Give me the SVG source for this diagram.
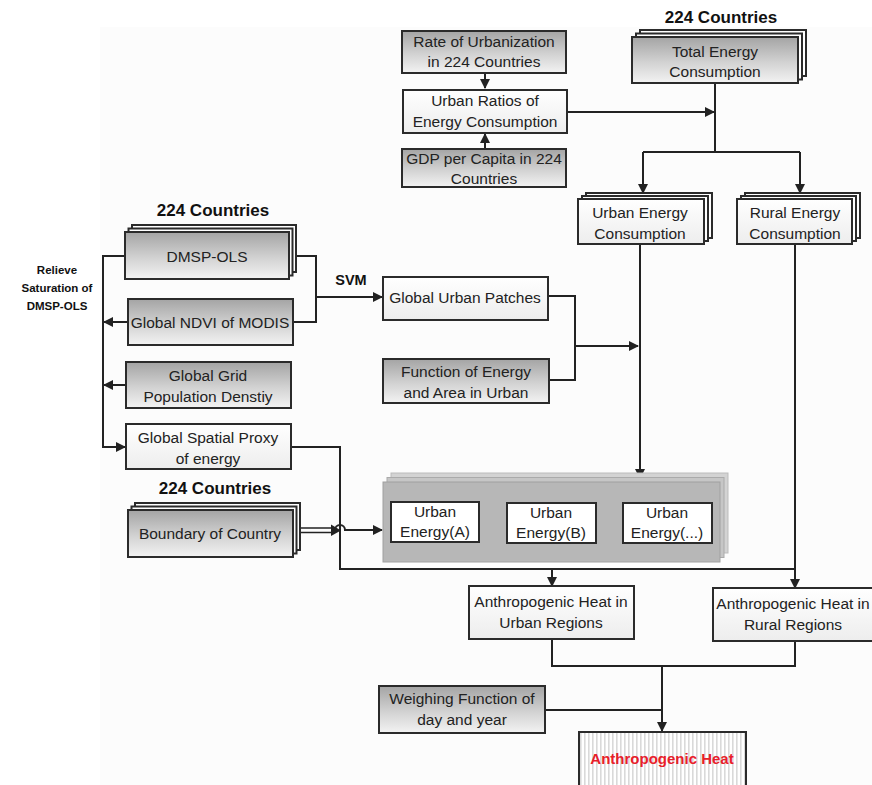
<svg xmlns="http://www.w3.org/2000/svg" width="872" height="785" viewBox="0 0 872 785">
<defs>
<linearGradient id="gGray" x1="0" y1="0" x2="0" y2="1">
<stop offset="0" stop-color="#a4a4a4"/>
<stop offset="0.55" stop-color="#d2d2d2"/>
<stop offset="1" stop-color="#f3f3f3"/>
</linearGradient>
<linearGradient id="gWhite" x1="0" y1="0" x2="0" y2="1">
<stop offset="0" stop-color="#ffffff"/>
<stop offset="1" stop-color="#ededed"/>
</linearGradient>
<pattern id="stripes" width="4" height="10" patternUnits="userSpaceOnUse">
<rect width="4" height="10" fill="#ffffff"/>
<rect width="1.6" height="10" fill="#d9d9d9"/>
</pattern>
<marker id="arr" viewBox="0 0 10 10" refX="9" refY="5" markerWidth="10" markerHeight="10" markerUnits="userSpaceOnUse" orient="auto">
<path d="M0,0 L10,5 L0,10 Z" fill="#222"/>
</marker>
</defs>
<style>
.box{stroke:#2b2b2b;stroke-width:2}
.g{fill:url(#gGray)}
.w{fill:url(#gWhite)}
.sh{fill:#ffffff;stroke:#2b2b2b;stroke-width:2}
.t{font-family:"Liberation Sans",Arial,sans-serif;font-size:15.5px;fill:#222;text-anchor:middle}
.b{font-family:"Liberation Sans",Arial,sans-serif;font-weight:bold;fill:#111;text-anchor:middle}
.c{fill:none;stroke:#222;stroke-width:2}
</style>
<rect x="100" y="27" width="772" height="758" fill="#fcfcfc"/>

<text class="b" x="721" y="23" font-size="17">224 Countries</text>
<text class="b" x="213" y="216" font-size="17">224 Countries</text>
<text class="b" x="215" y="494" font-size="17">224 Countries</text>
<g id="relieve-label">
<text class="b" x="57" y="274" font-size="11.5">Relieve</text>
<text class="b" x="57" y="292" font-size="11.5">Saturation of</text>
<text class="b" x="57" y="310" font-size="11.5">DMSP-OLS</text>
</g>
<text class="b" x="351" y="285" font-size="14.5">SVM</text>

<g id="connectors">
<path class="c" d="M485,73 V88" marker-end="url(#arr)"/>
<path class="c" d="M485,149 V134" stroke="#555" marker-end="url(#arr)"/>
<path class="c" d="M567,112 H714" marker-end="url(#arr)"/>
<path class="c" d="M715,83 V152 M643,152 H800"/>
<path class="c" d="M643,152 V193" marker-end="url(#arr)"/>
<path class="c" d="M800,152 V193" marker-end="url(#arr)"/>
<path class="c" d="M640,244 V478" marker-end="url(#arr)"/>
<path class="c" d="M795,244 V588" marker-end="url(#arr)"/>
<path class="c" d="M125,256 H103 V447 H125" marker-end="url(#arr)"/>
<path class="c" d="M128,322 H104" marker-end="url(#arr)"/>
<path class="c" d="M126,385 H104" marker-end="url(#arr)"/>
<path class="c" d="M289,256 H316 V322 H293"/>
<path class="c" d="M316,297 H382" marker-end="url(#arr)"/>
<path class="c" d="M548,296 H575 V380 H549"/>
<path class="c" d="M575,346 H638" marker-end="url(#arr)"/>
<path class="c" d="M291,447 H340 V569 H795"/>
<path d="M297,528 H333 M297,532.5 H333" fill="none" stroke="#222" stroke-width="1.6"/>
<path d="M331,524.5 L341,530.5 L331,536 Z" fill="#222"/>
<path class="c" d="M335,530 A5,5 0 0 1 345,530 H382" marker-end="url(#arr)"/>
<path class="c" d="M552,569 V586" marker-end="url(#arr)"/>
<path class="c" d="M552,639 V666 H662 M795,641 V666 H662 M545,710 H662"/>
<path class="c" d="M662,666 V731" marker-end="url(#arr)"/>
</g>

<g id="rate-urbanization">
<rect class="box g" x="402" y="31" width="164" height="42"/>
<text class="t" x="484" y="47">Rate of Urbanization</text>
<text class="t" x="484" y="67">in 224 Countries</text>
</g>
<g id="urban-ratios">
<rect class="box w" x="403" y="90" width="164" height="43"/>
<text class="t" x="485" y="106">Urban Ratios of</text>
<text class="t" x="485" y="127">Energy Consumption</text>
</g>
<g id="gdp">
<rect class="box g" x="402" y="149" width="164" height="38"/>
<text class="t" x="484" y="164">GDP per Capita in 224</text>
<text class="t" x="484" y="184">Countries</text>
</g>
<g id="total-energy">
<rect class="sh" x="640" y="30" width="166" height="46"/>
<rect class="sh" x="636" y="33.5" width="166" height="46"/>
<rect class="box g" x="632" y="37" width="166" height="46"/>
<text class="t" x="715" y="57">Total Energy</text>
<text class="t" x="715" y="77">Consumption</text>
</g>
<g id="urban-energy-consumption">
<rect class="sh" x="586" y="193" width="126" height="45"/>
<rect class="sh" x="582" y="196" width="126" height="45"/>
<rect class="box w" x="578" y="199" width="126" height="45"/>
<text class="t" x="640" y="218">Urban Energy</text>
<text class="t" x="640" y="239">Consumption</text>
</g>
<g id="rural-energy-consumption">
<rect class="sh" x="745" y="193" width="115" height="45"/>
<rect class="sh" x="741" y="196" width="115" height="45"/>
<rect class="box w" x="737" y="199" width="115" height="45"/>
<text class="t" x="795" y="218">Rural Energy</text>
<text class="t" x="795" y="239">Consumption</text>
</g>
<g id="dmsp-ols">
<rect class="sh" x="132" y="225" width="164" height="47"/>
<rect class="sh" x="128.5" y="228.5" width="164" height="47"/>
<rect class="box g" x="125" y="232" width="164" height="47"/>
<text class="t" x="207" y="262">DMSP-OLS</text>
</g>
<g id="ndvi">
<rect class="box g" x="128" y="299" width="165" height="46"/>
<text class="t" x="210" y="328">Global NDVI of MODIS</text>
</g>
<g id="population">
<rect class="box g" x="126" y="362" width="165" height="46"/>
<text class="t" x="208" y="381">Global Grid</text>
<text class="t" x="208" y="402">Population Denstiy</text>
</g>
<g id="spatial-proxy">
<rect class="box w" x="126" y="424" width="165" height="45"/>
<text class="t" x="208" y="443">Global Spatial Proxy</text>
<text class="t" x="208" y="464">of energy</text>
</g>
<g id="urban-patches">
<rect class="box w" x="383" y="277" width="165" height="43"/>
<text class="t" x="465" y="303">Global Urban Patches</text>
</g>
<g id="function-energy-area">
<rect class="box g" x="383" y="359" width="166" height="44"/>
<text class="t" x="466" y="377">Function of Energy</text>
<text class="t" x="466" y="398">and Area in Urban</text>
</g>
<g id="boundary">
<rect class="sh" x="135" y="503" width="165" height="47"/>
<rect class="sh" x="131.5" y="506.5" width="165" height="47"/>
<rect class="box g" x="128" y="510" width="165" height="47"/>
<text class="t" x="210" y="539">Boundary of Country</text>
</g>
<g id="urban-energy-group">
<rect x="391" y="473" width="337" height="80" fill="#d3d3d3" stroke="#bbbbbb" stroke-width="1"/>
<rect x="387" y="477.5" width="337" height="80" fill="#c6c6c6" stroke="#aaaaaa" stroke-width="1"/>
<rect x="383" y="482" width="337" height="80" fill="#b7b7b7" stroke="#a0a0a0" stroke-width="1"/>
<g id="urban-energy-a">
<rect class="box" x="391" y="502" width="88" height="40" fill="#ffffff"/>
<text class="t" x="435" y="517">Urban</text>
<text class="t" x="435" y="537">Energy(A)</text>
</g>
<g id="urban-energy-b">
<rect class="box" x="507" y="503" width="89" height="40" fill="#ffffff"/>
<text class="t" x="551" y="518">Urban</text>
<text class="t" x="551" y="538">Energy(B)</text>
</g>
<g id="urban-energy-etc">
<rect class="box" x="623" y="503" width="89" height="40" fill="#ffffff"/>
<text class="t" x="667" y="518">Urban</text>
<text class="t" x="667" y="538">Energy(...)</text>
</g>
</g>
<g id="ah-urban">
<rect class="box w" x="469" y="586" width="165" height="53"/>
<text class="t" x="551" y="607">Anthropogenic Heat in</text>
<text class="t" x="551" y="628">Urban Regions</text>
</g>
<g id="ah-rural">
<rect class="box w" x="713" y="588" width="165" height="53"/>
<text class="t" x="793" y="609">Anthropogenic Heat in</text>
<text class="t" x="793" y="630">Rural Regions</text>
</g>
<g id="weighing">
<rect class="box g" x="379" y="686" width="166" height="47"/>
<text class="t" x="462" y="704">Weighing Function of</text>
<text class="t" x="462" y="725">day and year</text>
</g>
<g id="anthropogenic-heat">
<rect class="box" x="579" y="732" width="167" height="60" fill="url(#stripes)"/>
<text x="662" y="764" font-family="Liberation Sans, Arial, sans-serif" font-weight="bold" font-size="15" fill="#e8202a" text-anchor="middle">Anthropogenic Heat</text>
</g>
</svg>
